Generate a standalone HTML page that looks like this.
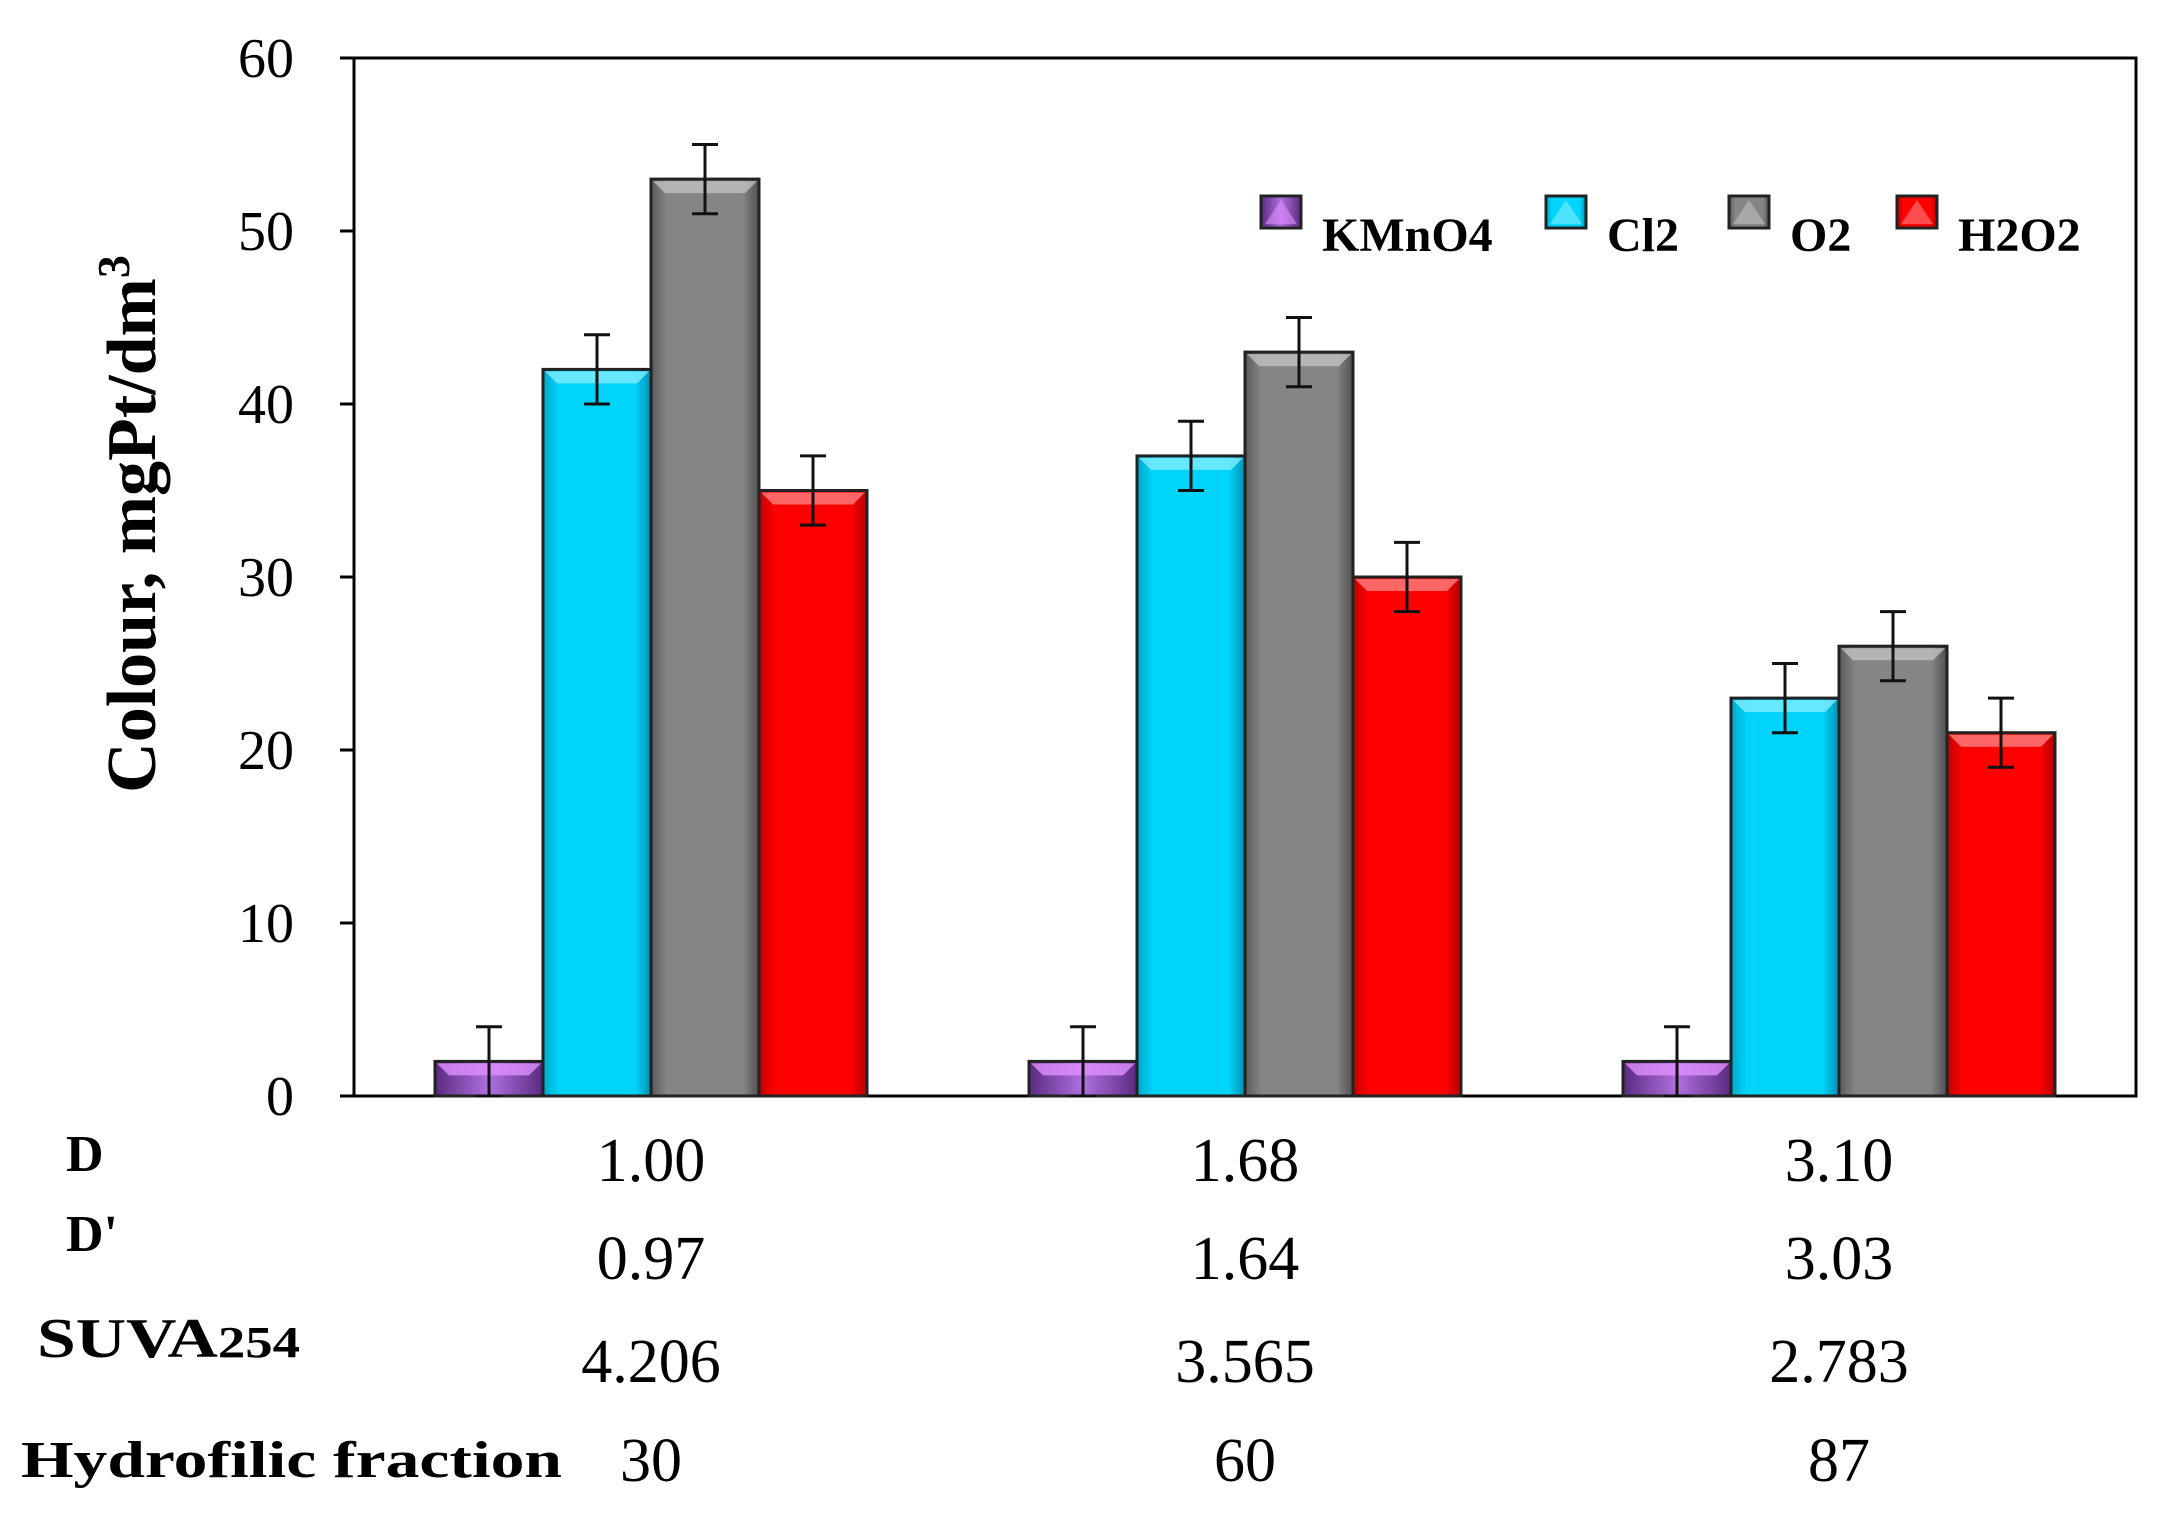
<!DOCTYPE html>
<html><head><meta charset="utf-8"><style>
html,body{margin:0;padding:0;background:#fff}
svg{display:block;font-family:"Liberation Serif",serif}
</style></head><body>
<svg id="chart" width="2161" height="1531" viewBox="0 0 2161 1531" xmlns="http://www.w3.org/2000/svg">
<defs>
<linearGradient id="gP" x1="0" x2="1"><stop offset="0" stop-color="#5a2a80"/><stop offset="0.5" stop-color="#b070e0"/><stop offset="1" stop-color="#5a2a80"/></linearGradient>
<linearGradient id="gC" x1="0" x2="1"><stop offset="0" stop-color="#00a8cc"/><stop offset="0.15" stop-color="#00d4fa"/><stop offset="0.85" stop-color="#00d4fa"/><stop offset="1" stop-color="#0090b0"/></linearGradient>
<linearGradient id="gG" x1="0" x2="1"><stop offset="0" stop-color="#5a5a5a"/><stop offset="0.15" stop-color="#858585"/><stop offset="0.85" stop-color="#858585"/><stop offset="1" stop-color="#505050"/></linearGradient>
<linearGradient id="gR" x1="0" x2="1"><stop offset="0" stop-color="#c00000"/><stop offset="0.15" stop-color="#ff0000"/><stop offset="0.85" stop-color="#ff0000"/><stop offset="1" stop-color="#b00000"/></linearGradient>
</defs>
</svg>
<script>
const categories = ['1.00','1.68','3.10'];
const seriesNames = ['KMnO4','Cl2','O2','H2O2'];
const kmno4 = [2,2,2];
const cl2 = [42,37,23];
const o2 = [53,43,26];
const h2o2 = [35,30,21];
const errors = [2,2,2];
const yTicks = [0,10,20,30,40,50,60];
const rowD = ['1.00','1.68','3.10'];
const rowDp = ['0.97','1.64','3.03'];
const rowSuva = ['4.206','3.565','2.783'];
const rowHydro = ['30','60','87'];

const NS='http://www.w3.org/2000/svg';
const svg=document.getElementById('chart');
const L=354,R=2136,T=58,B=1096,yMax=60;
const y=v=>B-(v/yMax)*(B-T);
const catW=(R-L)/categories.length;
const xc=i=>L+catW*(i+0.5);
const barW=108;
const fills=['url(#gP)','url(#gC)','url(#gG)','url(#gR)'];
const tops=['#e090ff','#80ecff','#c0c0c0','#ff8080'];
const series=[kmno4,cl2,o2,h2o2];
function mk(tag,attrs,parent){const e=document.createElementNS(NS,tag);for(const k in attrs)e.setAttribute(k,attrs[k]);(parent||svg).appendChild(e);return e;}

let f=mk('rect',{x:L,y:T,width:R-L,height:B-T,fill:'none',stroke:'#000','stroke-width':3});



yTicks.forEach(t=>{
  const ln=mk('line',{x1:L-14,x2:L,y1:y(t),y2:y(t),stroke:'#000','stroke-width':3});
  
  
  const tx=mk('text',{x:294,y:y(t)+19,'text-anchor':'end','font-size':56});
  tx.textContent=t;
  
  
});

series.forEach((s,si)=>{
  s.forEach((v,ci)=>{
    const x0=xc(ci)-2*barW+si*barW;
    const g=mk('g',{});
    
    
    mk('rect',{x:x0,y:y(v),width:barW,height:B-y(v),fill:fills[si],stroke:'#222','stroke-width':3},g);
    const h=Math.min(14,(B-y(v))/2);
    mk('polygon',{points:`${x0+2},${y(v)+2} ${x0+barW-2},${y(v)+2} ${x0+barW-14},${y(v)+h} ${x0+14},${y(v)+h}`,fill:tops[si],opacity:0.8},g);
    const e=errors[ci];
    const cx=x0+barW/2;
    const eb=mk('g',{stroke:'#111','stroke-width':3},g);
    mk('line',{x1:cx,x2:cx,y1:y(v+e),y2:y(Math.max(0,v-e))},eb);
    mk('line',{x1:cx-13,x2:cx+13,y1:y(v+e),y2:y(v+e)},eb);
    mk('line',{x1:cx-13,x2:cx+13,y1:y(Math.max(0,v-e)),y2:y(Math.max(0,v-e))},eb);
  });
});

const legX=[1261,1546,1729,1897];
seriesNames.forEach((n,i)=>{
  const g=mk('g',{});
  
  
  mk('rect',{x:legX[i],y:196,width:40,height:32,fill:fills[i],stroke:'#222','stroke-width':3},g);
  mk('polygon',{points:`${legX[i]+20},${200} ${legX[i]+36},${224} ${legX[i]+4},${224}`,fill:tops[i],opacity:0.6},g);
  const t=mk('text',{x:legX[i]+61,y:251,'font-size':48,'font-weight':'bold'},g);
  t.textContent=n;
});

const yt=mk('text',{transform:'translate(155,524) rotate(-90)','text-anchor':'middle','font-size':70,'font-weight':'bold'});


yt.innerHTML='Colour, mgPt/dm<tspan dy="-26" font-size="46">3</tspan>';

const rows=[
  {label:'D',lx:66,ly:1171,vy:1181,vals:rowD,name:'d'},
  {label:"D'",lx:66,ly:1251,vy:1279,vals:rowDp,name:'d-prime'},
  {label:'SUVA',lx:37,ly:1357,vy:1382,vals:rowSuva,name:'suva254'},
  {label:'Hydrofilic fraction',lx:21,ly:1477,vy:1481,vals:rowHydro,name:'hydrofilic-fraction'}
];
rows.forEach(r=>{
  const lt=mk('text',{x:r.lx,y:r.ly,'font-size':52,'font-weight':'bold'});
  
  
  if(r.name==='suva254'){lt.innerHTML='SUVA<tspan font-size="44">254</tspan>';lt.setAttribute('textLength','263');lt.setAttribute('lengthAdjust','spacingAndGlyphs');lt.setAttribute('font-size','56');}
  else if(r.name==='hydrofilic-fraction'){lt.textContent=r.label;lt.setAttribute('textLength','541');lt.setAttribute('lengthAdjust','spacingAndGlyphs');}
  else lt.textContent=r.label;
  r.vals.forEach((v,i)=>{
    const vt=mk('text',{x:xc(i),y:r.vy,'text-anchor':'middle','font-size':62});
    vt.textContent=v;
    
    
  });
});
</script>
</body></html>
